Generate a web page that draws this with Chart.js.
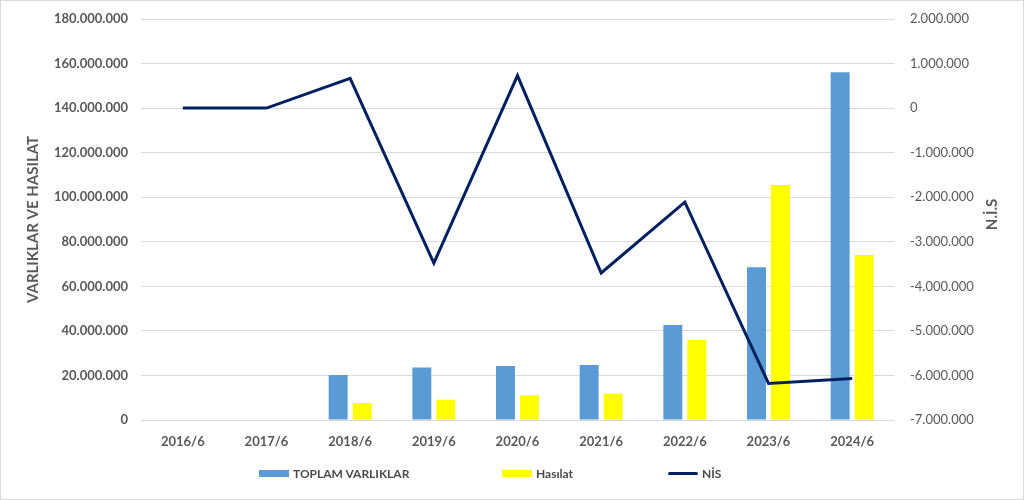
<!DOCTYPE html>
<html>
<head>
<meta charset="utf-8">
<script src="https://cdn.jsdelivr.net/npm/chart.js@4.4.1/dist/chart.umd.min.js"></script>
<style>
  html, body { margin: 0; padding: 0; background: #fff; }
  #wrap { position: relative; width: 1024px; height: 500px; box-sizing: border-box; border: 1px solid #d9d9d9; background: #fff; }
  #c { position: absolute; left: 0; top: 0; }
  #legend { position: absolute; left: 0; top: 462px; width: 1022px; height: 20px; font-family: Lato, "Liberation Sans", sans-serif; font-size: 12px; font-weight: bold; color: #4a4a4a; }
  .li { position: absolute; top: 0; display: flex; align-items: center; height: 20px; white-space: nowrap; }
  .sw { display: inline-block; width: 30px; height: 7px; margin-right: 4px; }
  .ln { display: inline-block; width: 30px; height: 3px; margin-right: 4px; border-radius: 2px; }
</style>
</head>
<body>
<div id="wrap">
  <canvas id="c" width="1022" height="498"></canvas>
  <div id="legend"></div>
</div>
<script>
const categories = ['2016/6','2017/6','2018/6','2019/6','2020/6','2021/6','2022/6','2023/6','2024/6'];
const toplamVarliklar = [null, null, 20200000, 23600000, 24200000, 24700000, 42600000, 68600000, 156100000];
const hasilat = [null, null, 7600000, 9100000, 11100000, 11800000, 35900000, 105500000, 74100000];
const nis = [0, 0, 670000, -3480000, 730000, -3700000, -2110000, -6180000, -6070000];
const seriesNames = ['TOPLAM VARLIKLAR', 'Hasılat', 'NİS'];
const seriesColors = ['#5B9BD5', '#FFFF00', '#002060'];
const leftTitle = 'VARLIKLAR VE HASILAT';
const rightTitle = 'N.İ.S';

function fmt(v) {
  const s = Math.round(Math.abs(v)).toString().replace(/\B(?=(\d{3})+(?!\d))/g, '.');
  return (v < 0 ? '-' : '') + s;
}

const FONT = 'Lato, "Liberation Sans", sans-serif';
const GRAY = '#595959';

// draw the right axis title reading bottom-to-top, like the reference
const rightTitlePlugin = {
  id: 'rightTitle',
  afterDraw(chart) {
    const ctx = chart.ctx;
    const s = chart.scales.y1;
    ctx.save();
    ctx.font = 'bold 15px ' + FONT;
    ctx.fillStyle = GRAY;
    ctx.textAlign = 'center';
    ctx.textBaseline = 'middle';
    ctx.translate(s.right - 31, (s.top + s.bottom) / 2 - 5);
    ctx.rotate(-Math.PI / 2);
    ctx.fillText(rightTitle, 0, 0);
    ctx.restore();
  }
};

const chart = new Chart(document.getElementById('c'), {
  data: {
    labels: categories,
    datasets: [
      { type: 'bar', label: seriesNames[0], data: toplamVarliklar, backgroundColor: seriesColors[0], yAxisID: 'y', order: 1,
        categoryPercentage: 0.574, barPercentage: 0.79 },
      { type: 'bar', label: seriesNames[1], data: hasilat, backgroundColor: seriesColors[1], yAxisID: 'y', order: 1,
        categoryPercentage: 0.574, barPercentage: 0.79 },
      { type: 'line', label: seriesNames[2], data: nis, borderColor: seriesColors[2], backgroundColor: seriesColors[2],
        borderWidth: 3, pointRadius: 0, tension: 0, yAxisID: 'y1', order: 0, borderJoinStyle: 'miter' }
    ]
  },
  options: {
    responsive: false,
    animation: false,
    layout: { padding: { top: 18, bottom: 49, left: 0, right: 0 } },
    plugins: { legend: { display: false }, tooltip: { enabled: false } },
    scales: {
      x: {
        grid: { display: false, drawTicks: false },
        border: { display: false },
        ticks: { color: GRAY, font: { family: FONT, size: 13, weight: 'bold' }, padding: 14, maxRotation: 0 },
        afterFit: (s) => { s.height = 30; }
      },
      y: {
        position: 'left',
        min: 0, max: 180000000,
        ticks: { stepSize: 20000000, color: GRAY, font: { family: FONT, size: 13, weight: 'bold' }, padding: 13, callback: (v) => fmt(v) },
        grid: { color: '#d9d9d9', lineWidth: 1, drawTicks: false },
        border: { display: false },
        title: { display: true, text: leftTitle, color: GRAY, font: { family: FONT, size: 15, weight: 'bold' }, padding: { top: 23 } },
        afterFit: (s) => { s.width = 140; s.paddingTop = 0; s.paddingBottom = 0; }
      },
      y1: {
        position: 'right',
        min: -7000000, max: 2000000,
        ticks: { stepSize: 1000000, color: GRAY, font: { family: FONT, size: 13 }, padding: 16, callback: (v) => fmt(v) },
        grid: { display: false, drawTicks: false },
        border: { display: false },
        title: { display: false, text: rightTitle },
        afterFit: (s) => { s.width = 129; s.paddingTop = 0; s.paddingBottom = 0; }
      }
    }
  },
  plugins: [rightTitlePlugin]
});

// nudge the layout padding so the plot area lands where the reference has it
(function fitArea() {
  const targetTop = 18, targetBottom = 419;
  for (let k = 0; k < 3; k++) {
    const a = chart.chartArea;
    const dTop = a.top - targetTop;
    const dBot = targetBottom - a.bottom;
    if (Math.abs(dTop) < 0.5 && Math.abs(dBot) < 0.5) break;
    chart.options.layout.padding.top = Math.max(0, chart.options.layout.padding.top - dTop);
    chart.options.layout.padding.bottom = Math.max(0, chart.options.layout.padding.bottom - dBot);
    chart.update();
  }
})();

// HTML legend
const legendPos = [258, 501, 667];
const lg = document.getElementById('legend');
seriesNames.forEach((n, i) => {
  const d = document.createElement('div');
  d.className = 'li';
  d.style.left = legendPos[i] + 'px';
  const s = document.createElement('span');
  s.className = i === 2 ? 'ln' : 'sw';
  s.style.background = seriesColors[i];
  d.appendChild(s);
  d.appendChild(document.createTextNode(n));
  lg.appendChild(d);
});
</script>
</body>
</html>
